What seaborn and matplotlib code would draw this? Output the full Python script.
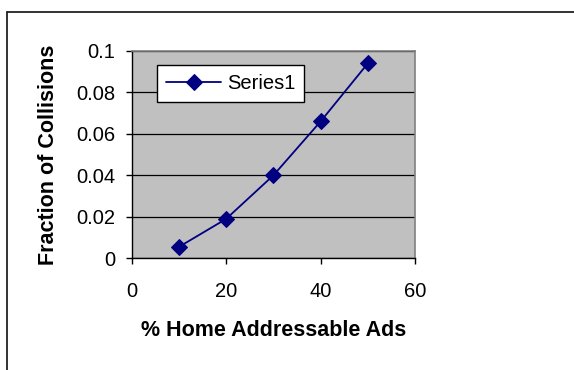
import matplotlib
matplotlib.use("Agg")
import matplotlib.pyplot as plt
from matplotlib.lines import Line2D
import seaborn as sns
import pandas as pd

# Collision fraction versus share of home-addressable ads
pct_home_ads = [10, 20, 30, 40, 50]
collision_fraction = [0.0055, 0.019, 0.040, 0.066, 0.094]
series_name = "Series1"
x_ticks = [0, 20, 40, 60]
y_ticks = [0, 0.02, 0.04, 0.06, 0.08, 0.1]
y_tick_labels = ["0", "0.02", "0.04", "0.06", "0.08", "0.1"]

sns.set_style("white")
plt.rcParams["font.family"] = ["Liberation Sans", "DejaVu Sans"]
plt.rcParams["text.color"] = "black"
plt.rcParams["axes.labelcolor"] = "black"
plt.rcParams["xtick.color"] = "black"
plt.rcParams["ytick.color"] = "black"

W, H = 574, 370
fig = plt.figure(figsize=(W / 100, H / 100), dpi=100)
left, right, top, bottom = 131.7, 415.0, 51.0, 258.3
ax = fig.add_axes([left / W, 1 - bottom / H, (right - left) / W, (bottom - top) / H])
ax.set_facecolor("#C0C0C0")

df = pd.DataFrame({"x": pct_home_ads, "y": collision_fraction, "s": series_name})
sns.lineplot(data=df, x="x", y="y", hue="s", palette=["#000080"], marker="D",
             markersize=8, markeredgecolor="#000080", linewidth=1.3, ax=ax)

ax.set_xlim(0, 60)
ax.set_ylim(0, 0.1)
ax.set_xticks(x_ticks)
ax.set_yticks(y_ticks)
ax.set_yticklabels(y_tick_labels)
ax.grid(axis="y", color="black", linewidth=0.9)
ax.grid(axis="x", visible=False)
ax.set_axisbelow(True)

for side in ("top", "right"):
    ax.spines[side].set_visible(True)
    ax.spines[side].set_color("#808080")
    ax.spines[side].set_linewidth(1.2)
for side in ("left", "bottom"):
    ax.spines[side].set_color("black")
    ax.spines[side].set_linewidth(1.0)

ax.tick_params(axis="both", which="both", direction="out", length=4, width=1,
               color="black", labelsize=14.5, labelcolor="black",
               left=True, bottom=True)
ax.tick_params(axis="y", pad=8)
ax.tick_params(axis="x", pad=13)

ax.set_xlabel("% Home Addressable Ads", fontsize=15.5, fontweight="bold",
              labelpad=14, color="black")
ax.set_ylabel("Fraction of Collisions", fontsize=15.5, fontweight="bold",
              labelpad=12, color="black")

leg = ax.legend(loc="upper left", bbox_to_anchor=((157.3 - left) / (right - left),
                                                   (bottom - 65) / (bottom - top)),
                borderaxespad=0, fontsize=14.5, frameon=True, fancybox=False,
                handlelength=2.7, handletextpad=0.3, borderpad=0.45,
                labelcolor="black")
leg.get_frame().set_edgecolor("black")
leg.get_frame().set_linewidth(1.0)
leg.get_frame().set_facecolor("white")
leg.get_frame().set_alpha(1)

# Outer frame along the top and left edges
fig.add_artist(Line2D([7.3 / W, 1.0], [1 - 11.7 / H, 1 - 11.7 / H], color="#222222", linewidth=1.3))
fig.add_artist(Line2D([7.3 / W, 7.3 / W], [0.0, 1 - 11.7 / H], color="#222222", linewidth=1.3))

fig.savefig("out.png", dpi=100)
